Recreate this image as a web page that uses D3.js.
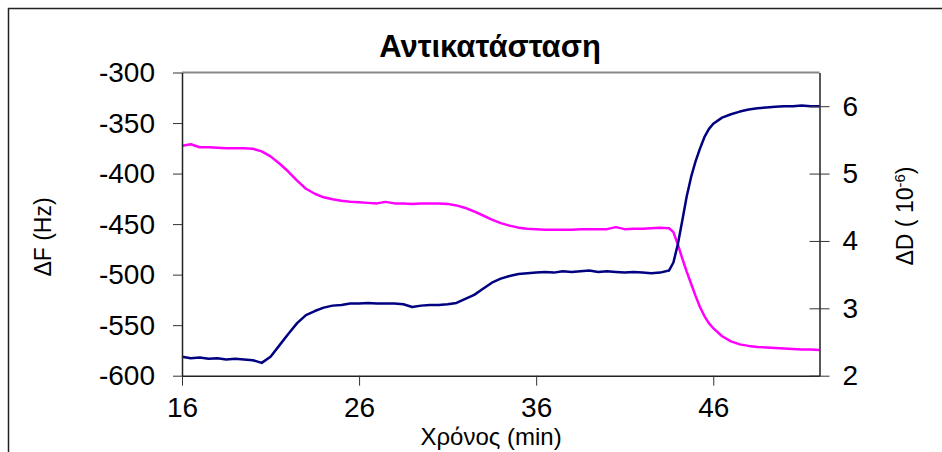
<!DOCTYPE html>
<html>
<head>
<meta charset="utf-8">
<script src="https://cdn.jsdelivr.net/npm/d3@7"></script>
<style>
  body { margin: 0; background: #fff; }
  svg { display: block; font-family: "Liberation Sans", Arial, sans-serif; }
</style>
</head>
<body>
<div class="chart-container"></div>
<script>
// time (min)
var time = [16, 16.5, 17, 17.5, 18, 18.5, 19, 19.5, 20, 20.5, 21, 21.5, 22, 22.5, 23, 23.5, 24, 24.5, 25, 25.5,
  26, 26.5, 27, 27.5, 28, 28.5, 29, 29.5, 30, 30.5, 31, 31.5, 32, 32.5, 33, 33.5, 34, 34.5, 35, 35.5,
  36, 36.5, 37, 37.5, 38, 38.5, 39, 39.5, 40, 40.5, 41, 41.5, 42, 42.5, 43, 43.5, 43.75, 44, 44.25, 44.5,
  44.75, 45, 45.25, 45.5, 45.75, 46, 46.5, 47, 47.5, 48, 48.5, 49, 49.5, 50, 50.5, 51, 51.5, 52];

// ΔF (Hz) - left axis
var deltaF = [-372.5, -371, -374, -374, -374.5, -375, -375, -375, -375.5, -378, -383, -390, -398, -407, -415, -420, -423.5, -425.5, -427, -428,
  -428.5, -429, -429.5, -428, -429.5, -429.5, -430, -429.5, -429.5, -429.5, -430, -431.5, -434, -437.5, -441.5, -445.5, -449, -451.5, -453.5, -454.5,
  -455, -455.5, -455.5, -455.5, -455.5, -455, -455, -455, -455, -453, -455, -454.5, -454.5, -454, -453.5, -454, -458, -470, -484, -497,
  -509, -521, -532, -541, -548, -553, -561, -566, -569, -570.5, -571.5, -572, -572.5, -573, -573.5, -574, -574, -574.5];

// ΔD (10^-6) - right axis
var deltaD = [2.28, 2.26, 2.27, 2.25, 2.26, 2.24, 2.25, 2.24, 2.23, 2.19, 2.28, 2.45, 2.62, 2.78, 2.90, 2.96, 3.01, 3.04, 3.05, 3.07,
  3.07, 3.08, 3.07, 3.07, 3.07, 3.06, 3.02, 3.04, 3.05, 3.05, 3.06, 3.08, 3.14, 3.20, 3.29, 3.38, 3.44, 3.48, 3.51, 3.52,
  3.53, 3.54, 3.53, 3.55, 3.54, 3.55, 3.56, 3.54, 3.55, 3.54, 3.53, 3.54, 3.53, 3.52, 3.53, 3.56, 3.68, 3.95, 4.30, 4.66,
  4.95, 5.18, 5.37, 5.54, 5.66, 5.74, 5.83, 5.88, 5.92, 5.95, 5.97, 5.98, 5.99, 6.00, 6.00, 6.01, 6.00, 6.00];

var xTicks = [16, 26, 36, 46];
var leftTicks = [-300, -350, -400, -450, -500, -550, -600];
var rightTicks = [2, 3, 4, 5, 6];

var width = 942, height = 452;
var plot = { left: 182, right: 819.5, top: 72.5, bottom: 375.7 };

var svg = d3.select(".chart-container").append("svg")
  .attr("width", width)
  .attr("height", height);

// outer chart frame (runs off right/bottom edge)
svg.append("rect")
  .attr("x", 8.5).attr("y", 8.5)
  .attr("width", 1000).attr("height", 1000)
  .attr("fill", "none")
  .attr("stroke", "#222")
  .attr("stroke-width", 1.5);

var x = d3.scaleLinear().domain([16, 52]).range([plot.left, plot.right]);
var yF = d3.scaleLinear().domain([-600, -300]).range([plot.bottom, plot.top]);
var yD = d3.scaleLinear().domain([2, 6.5]).range([plot.bottom, plot.top]);

// plot area top border
svg.append("line")
  .attr("x1", plot.left).attr("x2", plot.right)
  .attr("y1", plot.top).attr("y2", plot.top)
  .attr("stroke", "#888")
  .attr("stroke-width", 2);

// series
var lineF = d3.line().x(function (d, i) { return x(time[i]); }).y(function (d) { return yF(d); });
var lineD = d3.line().x(function (d, i) { return x(time[i]); }).y(function (d) { return yD(d); });

svg.append("path").datum(deltaF)
  .attr("d", lineF)
  .attr("fill", "none")
  .attr("stroke", "#ff00ff")
  .attr("stroke-width", 2.5)
  .attr("stroke-linejoin", "round");

svg.append("path").datum(deltaD)
  .attr("d", lineD)
  .attr("fill", "none")
  .attr("stroke", "#000080")
  .attr("stroke-width", 2.5)
  .attr("stroke-linejoin", "round");

//axes
var fontSize = 28;
var plain = function (d) { return String(d); };
var gx = svg.append("g")
  .attr("transform", "translate(0," + plot.bottom + ")")
  .call(d3.axisBottom(x).tickValues(xTicks).tickFormat(plain).tickSize(10).tickPadding(11).tickSizeOuter(0));

var gl = svg.append("g")
  .attr("transform", "translate(" + plot.left + ",0)")
  .call(d3.axisLeft(yF).tickValues(leftTicks).tickFormat(plain).tickSize(9).tickPadding(18).tickSizeOuter(0));

var gr = svg.append("g")
  .attr("transform", "translate(" + plot.right + ",0)")
  .call(d3.axisRight(yD).tickValues(rightTicks).tickFormat(plain).tickSize(10).tickPadding(13).tickSizeOuter(0));

// right axis ticks cross the line
gr.selectAll(".tick line").attr("x1", -10);

[gx, gl, gr].forEach(function (g) {
  g.select(".domain").attr("stroke", "#222").attr("stroke-width", 1.5);
  g.selectAll(".tick line").attr("stroke", "#333").attr("stroke-width", 1);
  g.selectAll("text")
    .attr("fill", "#000")
    .style("font-size", fontSize + "px")
    .style("font-family", "'Liberation Sans', Arial, sans-serif");
});

// title
svg.append("text")
  .attr("x", 490).attr("y", 57)
  .attr("text-anchor", "middle")
  .style("font-size", "31px")
  .style("font-weight", "bold")
  .text("Αντικατάσταση");

// axis titles
svg.append("text")
  .attr("transform", "translate(51,237) rotate(-90)")
  .attr("text-anchor", "middle")
  .style("font-size", "23px")
  .text("ΔF (Hz)");

var rt = svg.append("text")
  .attr("transform", "translate(913,216) rotate(-90)")
  .attr("text-anchor", "middle")
  .style("font-size", "23px");
rt.append("tspan").text("ΔD ( 10");
rt.append("tspan").attr("dy", -8).style("font-size", "15px").text("-6");
rt.append("tspan").attr("dy", 8).text(")");

svg.append("text")
  .attr("x", 491).attr("y", 445)
  .attr("text-anchor", "middle")
  .style("font-size", "24px")
  .text("Χρόνος (min)");
</script>
</body>
</html>
